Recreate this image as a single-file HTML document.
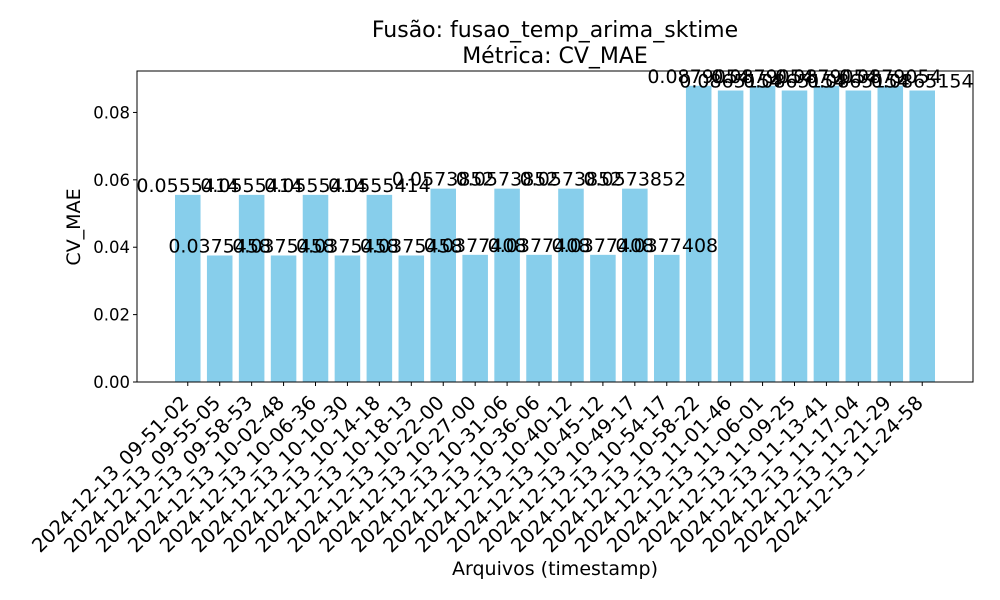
<!DOCTYPE html>
<html><head><meta charset="utf-8"><style>
html,body{margin:0;padding:0;background:#fff;}
svg{display:block;font-family:"DejaVu Sans","Liberation Sans",sans-serif;}
</style></head><body>
<svg id="chart" width="1000" height="600">
<text x="555" y="37" font-size="22" text-anchor="middle">Fusão: fusao_temp_arima_sktime</text>
<text x="555" y="63" font-size="22" text-anchor="middle">Métrica: CV_MAE</text>
<text x="555" y="575" font-size="19" text-anchor="middle">Arquivos (timestamp)</text>
<text transform="translate(80,227) rotate(-90)" font-size="19" text-anchor="middle">CV_MAE</text>
<g id="bars"></g><g id="labels"></g><g id="yticks"></g><g id="xticks"></g>
<rect x="137" y="71" width="836" height="311" fill="none" stroke="#000" stroke-width="1"/>
</svg>
<script>
const categories=["2024-12-13_09-51-02","2024-12-13_09-55-05","2024-12-13_09-58-53","2024-12-13_10-02-48","2024-12-13_10-06-36","2024-12-13_10-10-30","2024-12-13_10-14-18","2024-12-13_10-18-13","2024-12-13_10-22-00","2024-12-13_10-27-00","2024-12-13_10-31-06","2024-12-13_10-36-06","2024-12-13_10-40-12","2024-12-13_10-45-12","2024-12-13_10-49-17","2024-12-13_10-54-17","2024-12-13_10-58-22","2024-12-13_11-01-46","2024-12-13_11-06-01","2024-12-13_11-09-25","2024-12-13_11-13-41","2024-12-13_11-17-04","2024-12-13_11-21-29","2024-12-13_11-24-58"];
const values=[0.0555414,0.0375458,0.0555414,0.0375458,0.0555414,0.0375458,0.0555414,0.0375458,0.0573852,0.0377408,0.0573852,0.0377408,0.0573852,0.0377408,0.0573852,0.0377408,0.0879054,0.0865154,0.0879054,0.0865154,0.0879054,0.0865154,0.0879054,0.0865154];
const yTicks=[0,0.02,0.04,0.06,0.08];
const L=137,R=973,T=71,B=382;
const n=categories.length;
const xmin=-0.4-0.05*(n-0.2),xmax=n-0.6+0.05*(n-0.2);
const ymax=Math.max(...values)*1.05;
const xs=v=>L+(v-xmin)/(xmax-xmin)*(R-L);
const ys=v=>B-v/ymax*(B-T);
const NS="http://www.w3.org/2000/svg";
function mk(tag,attrs,parent,text){const e=document.createElementNS(NS,tag);for(const k in attrs)e.setAttribute(k,attrs[k]);if(text!==undefined)e.textContent=text;parent.appendChild(e);return e;}
const gb=document.getElementById('bars'),gl=document.getElementById('labels'),gy=document.getElementById('yticks'),gx=document.getElementById('xticks');
values.forEach((v,i)=>{
  const x0=xs(i-0.4),x1=xs(i+0.4);
  const r=mk('rect',{x:x0,y:ys(v),width:x1-x0,height:B-ys(v),fill:'#87ceeb'},gb);
  
  
  const t=mk('text',{x:xs(i),y:ys(v)-3,'font-size':19,'text-anchor':'middle'},gl,String(v));
  
  
  mk('line',{x1:xs(i),x2:xs(i),y1:B,y2:B+4,stroke:'#000'},gx);
  const lx=xs(i)+2,ly=404;
  const xl=mk('text',{x:lx,y:ly,'font-size':19.5,'text-anchor':'end',transform:`rotate(-45 ${lx} ${ly})`},gx,categories[i]);
  
  
});
yTicks.forEach(v=>{
  mk('line',{x1:L-4,x2:L,y1:ys(v),y2:ys(v),stroke:'#000'},gy);
  const t=mk('text',{x:L-7,y:ys(v)+6,'font-size':16.5,'text-anchor':'end'},gy,v.toFixed(2));
  
  
});
</script>
</body></html>
